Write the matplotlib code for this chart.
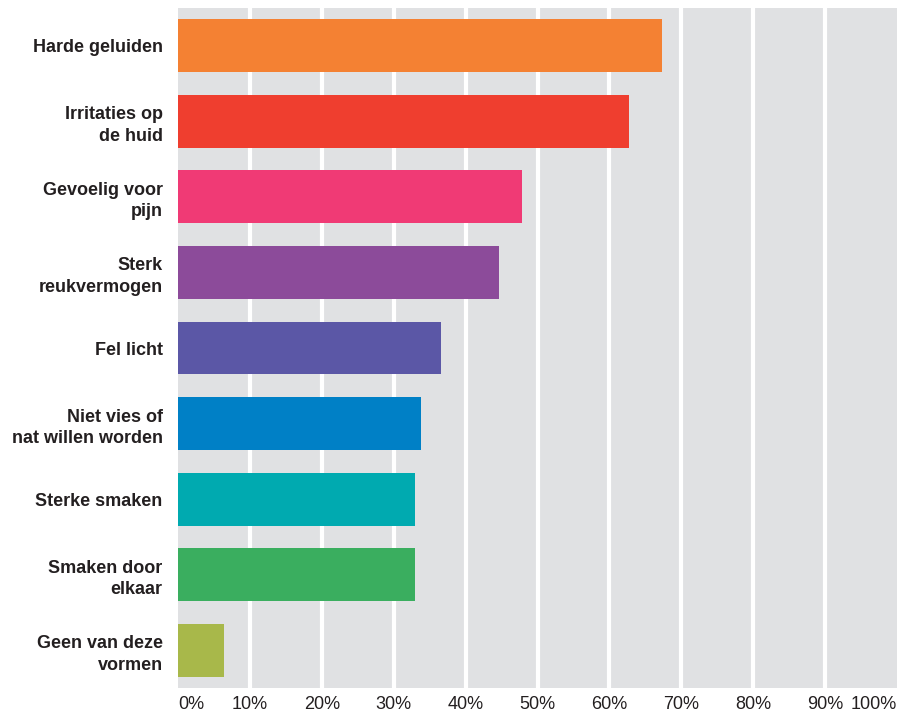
import matplotlib
matplotlib.use('Agg')
import matplotlib.pyplot as plt

# data (percent of respondents)
categories = [
    'Harde geluiden',
    'Irritaties op\nde huid',
    'Gevoelig voor\npijn',
    'Sterk\nreukvermogen',
    'Fel licht',
    'Niet vies of\nnat willen worden',
    'Sterke smaken',
    'Smaken door\nelkaar',
    'Geen van deze\nvormen',
]
values = [67.3, 62.7, 47.9, 44.7, 36.6, 33.8, 32.9, 32.9, 6.4]
barColors = ['#f48133', '#ef3e2f', '#f03a75', '#8c4b9a', '#5b57a6',
             '#0080c6', '#00aab0', '#3aae5f', '#a8b84a']
ticks = list(range(0, 101, 10))
tickLabels = ['%d%%' % t for t in ticks]

textColor = '#231f20'
bgColor = '#e0e1e3'

plt.rcParams['font.family'] = ['Liberation Sans', 'DejaVu Sans']

fig = plt.figure(figsize=(8.99, 7.16), dpi=100)
ax = fig.add_axes([178/899, 28/716, 719/899, 680/716])
ax.set_facecolor(bgColor)

ys = list(range(len(categories)))
ax.barh(ys, values, height=0.70, color=barColors, zorder=3)

ax.set_xlim(0, 100)
ax.set_ylim(len(categories) - 0.5, -0.5)

# white vertical gridlines
for t in ticks[1:-1]:
    ax.axvline(t, color='white', lw=3, zorder=1)

for s in ax.spines.values():
    s.set_visible(False)

ax.set_yticks(ys)
ax.set_yticklabels(categories, fontsize=13, fontweight='bold', color=textColor,
                   linespacing=1.35)
ax.tick_params(axis='y', length=0, pad=11)

ax.set_xticks(ticks)
ax.set_xticklabels(tickLabels, fontsize=13, color=textColor)
ax.tick_params(axis='x', length=0, pad=6)
xl = ax.get_xticklabels()
xl[0].set_horizontalalignment('left')
xl[-1].set_horizontalalignment('right')

fig.savefig('out.png', dpi=100)
